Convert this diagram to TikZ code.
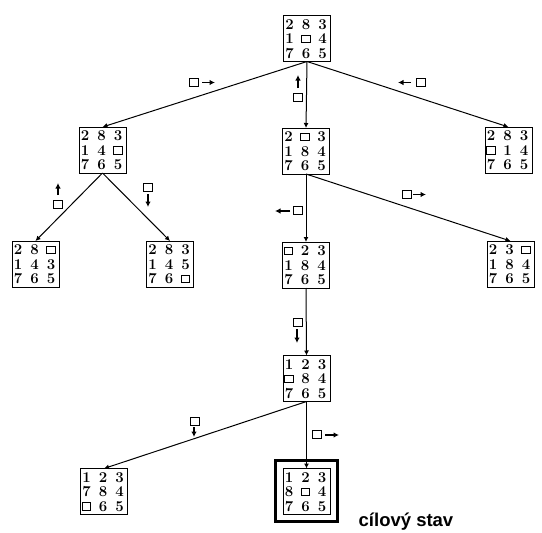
\documentclass[tikz,border=0pt]{standalone}
\usepackage{fontspec}
\newfontfamily\lsans{Liberation Sans}
\usetikzlibrary{arrows.meta}
\tikzset{
 puzbox/.style={draw, line width=0.8pt, minimum width=47pt, minimum height=46pt, inner sep=0pt, outer sep=0pt},
 goalframe/.style={draw, line width=3pt, minimum width=62pt, minimum height=61pt, inner sep=0pt, outer sep=0pt},
 digit/.style={inner sep=0pt, font=\fontsize{15}{16}\selectfont\bfseries},
 blank/.style={draw, line width=0.8pt, minimum width=8.5pt, minimum height=7.5pt, inner sep=0pt},
 edge/.style={line width=1pt, -{Latex[length=5pt,width=5pt]}},
 mvbox/.style={draw, line width=0.8pt, minimum width=9pt, minimum height=8pt, inner sep=0pt},
 mvarrow/.style={line width=1.6pt, -{Latex[length=5.5pt,width=5.5pt]}},
 goaltext/.style={inner sep=0pt, anchor=base, font=\lsans\fontsize{18.5}{20}\selectfont\bfseries},
}
\newcommand\puz[4]{%
 \node[puzbox] (#1) at (#2,#3) {};
 \foreach \v [count=\k from 0] in {#4} {%
   \pgfmathtruncatemacro\cc{mod(\k,3)}%
   \pgfmathtruncatemacro\rr{div(\k,3)}%
   \pgfmathsetmacro\px{#2+\cc*16.5-17.5}%
   \pgfmathsetmacro\py{#3+\rr*14.5-14}%
   \ifnum\v=0 \node[blank] (#1-\k) at (\px,\py) {};%
   \else \node[digit] (#1-\k) at (\px,\py) {\v};\fi
 }}
\newcommand\mv[7]{%
 \node[mvbox] (#1) at (#2,#3) {};
 \draw[mvarrow] (#4,#5) -- (#6,#7);}
\begin{document}
\begin{tikzpicture}[x=1pt,y=-1pt]
\useasboundingbox (0,0) rectangle (542,533);
\puz{root}{307}{38.5}{2,8,3,1,0,4,7,6,5}
\puz{a}{102.5}{150}{2,8,3,1,4,0,7,6,5}
\puz{b}{306}{151}{2,0,3,1,8,4,7,6,5}
\puz{c}{508.5}{150}{2,8,3,0,1,4,7,6,5}
\puz{d}{35.5}{264}{2,8,0,1,4,3,7,6,5}
\puz{e}{170}{264}{2,8,3,1,4,5,7,6,0}
\puz{f}{306}{265}{0,2,3,1,8,4,7,6,5}
\puz{g}{510.5}{264}{2,3,0,1,8,4,7,6,5}
\puz{h}{306.5}{378.5}{1,2,3,0,8,4,7,6,5}
\puz{i}{104}{491.5}{1,2,3,7,8,4,0,6,5}
\puz{goal}{306.5}{491.5}{1,2,3,8,0,4,7,6,5}
\node[goalframe] (frame) at (306.5,491) {};
\node[goaltext] (lbl) at (406,526) {cílový stav};
\draw[edge] (root.south) -- (a.north);
\draw[edge] (root.south) -- (b.north);
\draw[edge] (root.south) -- (c.north);
\draw[edge] (a.south) -- (d.north);
\draw[edge] (a.south) -- (e.north);
\draw[edge] (b.south) -- (f.north);
\draw[edge] (b.south) -- (g.north);
\draw[edge] (f.south) -- (h.north);
\draw[edge] (h.south) -- (i.north);
\draw[edge] (h.south) -- (goal.north);
\mv{m1}{194}{82.5}{202}{82.5}{215}{82.5}
\mv{m2}{298}{97.5}{298}{88}{298}{75}
\mv{m3}{420.5}{82.5}{411}{82.5}{398}{82.5}
\mv{m4}{57.5}{204.5}{58}{195}{58}{183}
\mv{m5}{148}{187}{148}{194}{148}{207}
\mv{m6}{297.5}{210.5}{290}{211}{275}{211}
\mv{m7}{406.5}{194.5}{413}{194.5}{426}{194.5}
\mv{m8}{297.5}{322}{297}{329}{297}{343}
\mv{m9}{194.5}{421.5}{194}{427}{194}{437}
\mv{m10}{316.5}{434.5}{325}{435}{339}{435}
\end{tikzpicture}
\end{document}
